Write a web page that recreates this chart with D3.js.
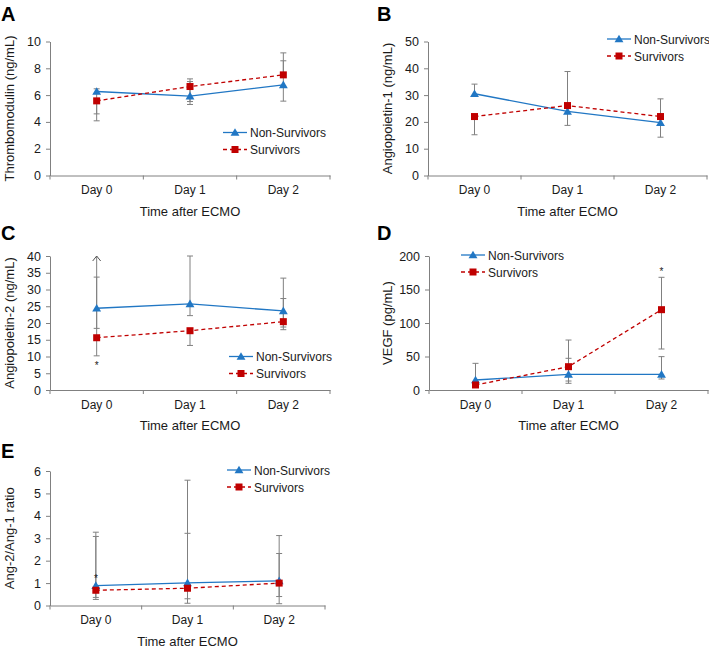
<!DOCTYPE html>
<html>
<head>
<meta charset="utf-8">
<script src="https://cdn.jsdelivr.net/npm/d3@7"></script>
<style>
  body { margin: 0; background: #fff; }
  svg { display: block; font-family: "Liberation Sans", Arial, sans-serif; }
</style>
</head>
<body>
<svg id="chart" width="709" height="647"></svg>
<script>
const days = ['Day 0', 'Day 1', 'Day 2'];
const seriesNames = ['Non-Survivors', 'Survivors'];

// A: thrombomodulin (ng/mL)
const tmNon = [6.27, 5.92, 6.77];
const tmNonLow = [4.6, 5.52, 5.55];
const tmNonHigh = [6.47, 7.01, 8.56];
const tmSur = [5.57, 6.64, 7.51];
const tmSurLow = [4.08, 5.3, null];
const tmSurHigh = [null, 7.21, 9.15];
const tmTicks = [0, 2, 4, 6, 8, 10];

// B: angiopoietin-1 (ng/mL)
const ang1Non = [30.5, 23.9, 19.7];
const ang1NonLow = [null, 18.7, 14.3];
const ang1NonHigh = [34.1, null, null];
const ang1Sur = [22.0, 26.1, 22.0];
const ang1SurLow = [15.2, null, null];
const ang1SurHigh = [null, 38.8, 28.6];
const ang1Ticks = [0, 10, 20, 30, 40, 50];

// C: angiopoietin-2 (ng/mL), Day 0 upper bar runs off the axis
const ang2Non = [24.4, 25.7, 23.6];
const ang2NonLow = [18.4, 22.2, 18.0];
const ang2NonHigh = [40, 40, 33.4];
const ang2NonOffScale = [true, false, false];
const ang2Sur = [15.6, 17.7, 20.4];
const ang2SurLow = [10.2, 13.3, 18.8];
const ang2SurHigh = [33.7, null, 27.3];
const ang2Ticks = [0, 5, 10, 15, 20, 25, 30, 35, 40];

// D: VEGF (pg/mL)
const vegfNon = [14.9, 23.4, 23.4];
const vegfNonLow = [null, 13.4, 16.4];
const vegfNonHigh = [39.8, 47.3, 49.8];
const vegfSur = [7.5, 34.8, 119.9];
const vegfSurLow = [null, 10, 61.2];
const vegfSurHigh = [null, 74.6, 168.2];
const vegfTicks = [0, 50, 100, 150, 200];

// E: Ang-2/Ang-1 ratio
const ratioNon = [0.89, 1.01, 1.10];
const ratioNonLow = [0.36, 0.3, 0.4];
const ratioNonHigh = [3.27, 5.59, 3.12];
const ratioSur = [0.68, 0.77, 1.0];
const ratioSurLow = [0.27, 0.1, 0.08];
const ratioSurHigh = [3.08, 3.22, 2.32];
const ratioTicks = [0, 1, 2, 3, 4, 5, 6];

// significance marks: [day, y value]
const ang2Star = ['Day 0', 7.6];
const vegfStar = ['Day 2', 177];
const ratioStar = ['Day 0', 1.22];

const blue = '#2177c4';
const red = '#c00000';
const grey = '#808080';
const textCol = '#1a1a1a';

const svg = d3.select('#chart');

const panels = [
  { letter: 'A', lx: 1, ly: 21, x0: 50, x1: 330, yTop: 41.5, yBot: 175.5,
    ticks: tmTicks, title: 'Thrombomodulin (ng/mL)', titleX: 10,
    non: tmNon, nonLow: tmNonLow, nonHigh: tmNonHigh,
    sur: tmSur, surLow: tmSurLow, surHigh: tmSurHigh,
    legX: 223, legY: 132.5 },
  { letter: 'B', lx: 377, ly: 21, x0: 428, x1: 707, yTop: 41.5, yBot: 175.5,
    ticks: ang1Ticks, title: 'Angiopoietin-1 (ng/mL)', titleX: 388,
    non: ang1Non, nonLow: ang1NonLow, nonHigh: ang1NonHigh,
    sur: ang1Sur, surLow: ang1SurLow, surHigh: ang1SurHigh,
    legX: 607, legY: 39 },
  { letter: 'C', lx: 1, ly: 240, x0: 50, x1: 330, yTop: 256, yBot: 390,
    ticks: ang2Ticks, title: 'Angiopoietin-2 (ng/mL)', titleX: 10,
    non: ang2Non, nonLow: ang2NonLow, nonHigh: ang2NonHigh, offScale: ang2NonOffScale,
    sur: ang2Sur, surLow: ang2SurLow, surHigh: ang2SurHigh,
    legX: 229, legY: 356.5, star: ang2Star },
  { letter: 'D', lx: 377, ly: 240, x0: 429, x1: 708, yTop: 256, yBot: 390,
    ticks: vegfTicks, title: 'VEGF (pg/mL)', titleX: 388,
    non: vegfNon, nonLow: vegfNonLow, nonHigh: vegfNonHigh,
    sur: vegfSur, surLow: vegfSurLow, surHigh: vegfSurHigh,
    legX: 461, legY: 255, star: vegfStar },
  { letter: 'E', lx: 1, ly: 458, x0: 50, x1: 325, yTop: 471, yBot: 605.5,
    ticks: ratioTicks, title: 'Ang-2/Ang-1 ratio', titleX: 10,
    non: ratioNon, nonLow: ratioNonLow, nonHigh: ratioNonHigh,
    sur: ratioSur, surLow: ratioSurLow, surHigh: ratioSurHigh,
    legX: 227, legY: 470, star: ratioStar }
];

const triangle = d3.symbol().type(d3.symbolTriangle).size(34);

function drawMarker(g, kind, x, y) {
  if (kind === 0) {
    g.append('path').attr('d', triangle())
      .attr('transform', `translate(${x},${y + 0.8})`)
      .attr('fill', blue);
  } else {
    g.append('rect').attr('x', x - 3.5).attr('y', y - 3.5)
      .attr('width', 7).attr('height', 7).attr('fill', red);
  }
}

panels.forEach(p => {
  const g = svg.append('g');

  const x = d3.scaleBand().domain(days).range([p.x0, p.x1]);
  const y = d3.scaleLinear()
    .domain([0, d3.max(p.ticks)])
    .range([p.yBot, p.yTop]);
  const cx = d => x(d) + x.bandwidth() / 2;

  // panel letter
  g.append('text')
    .attr('x', p.lx).attr('y', p.ly)
    .attr('font-size', 20).attr('font-weight', 'bold')
    .attr('fill', '#000')
    .text(p.letter);

  // y axis
  const yAxis = d3.axisLeft(y).tickValues(p.ticks).tickFormat(d3.format('d'))
    .tickSize(4).tickSizeOuter(0).tickPadding(5);
  const ya = g.append('g').attr('transform', `translate(${p.x0},0)`).call(yAxis);
  ya.select('.domain').attr('stroke', grey);
  ya.selectAll('.tick line').attr('stroke', grey);
  ya.selectAll('.tick text').attr('font-size', 12.5).attr('fill', textCol)
    .attr('font-family', '"Liberation Sans", Arial, sans-serif');

  // x axis: labels centred, tick marks on the band edges
  const xAxis = d3.axisBottom(x).tickSize(0).tickSizeOuter(0).tickPadding(10);
  const xa = g.append('g').attr('transform', `translate(0,${p.yBot})`).call(xAxis);
  xa.select('.domain').attr('stroke', grey);
  xa.selectAll('.tick text').attr('font-size', 12).attr('fill', textCol)
    .attr('font-family', '"Liberation Sans", Arial, sans-serif');
  const edges = days.map(d => x(d)).concat([p.x1]);
  g.selectAll(null).data(edges).enter().append('line')
    .attr('x1', d => d).attr('x2', d => d)
    .attr('y1', p.yBot).attr('y2', p.yBot + 4)
    .attr('stroke', grey);

  // axis titles
  g.append('text')
    .attr('x', (p.x0 + p.x1) / 2).attr('y', p.yBot + 40)
    .attr('text-anchor', 'middle').attr('font-size', 13).attr('fill', textCol)
    .text('Time after ECMO');
  g.append('text')
    .attr('transform', `translate(${p.titleX + 4},${(p.yTop + p.yBot) / 2}) rotate(-90)`)
    .attr('text-anchor', 'middle').attr('font-size', 13).attr('fill', textCol)
    .text(p.title);

  const series = [
    { vals: p.non, low: p.nonLow, high: p.nonHigh, kind: 0 },
    { vals: p.sur, low: p.surLow, high: p.surHigh, kind: 1 }
  ];

  // error bars
  series.forEach(s => {
    days.forEach((d, i) => {
      const xc = cx(d);
      [s.low[i], s.high[i]].forEach((end, j) => {
        if (end == null) return;
        g.append('line')
          .attr('x1', xc).attr('x2', xc)
          .attr('y1', y(s.vals[i])).attr('y2', y(end))
          .attr('stroke', grey).attr('stroke-width', 1);
        const off = j === 1 && s.kind === 0 && p.offScale && p.offScale[i];
        if (off) {
          g.append('path')
            .attr('d', `M${xc - 4},${y(end) + 5}L${xc},${y(end)}L${xc + 4},${y(end) + 5}`)
            .attr('fill', 'none').attr('stroke', '#555').attr('stroke-width', 1);
        } else {
          g.append('line')
            .attr('x1', xc - 3).attr('x2', xc + 3)
            .attr('y1', y(end)).attr('y2', y(end))
            .attr('stroke', grey).attr('stroke-width', 1);
        }
      });
    });
  });

  // lines
  const line = d3.line().x((v, i) => cx(days[i])).y(v => y(v));
  g.append('path').datum(p.non).attr('d', line)
    .attr('fill', 'none').attr('stroke', blue).attr('stroke-width', 1.3);
  g.append('path').datum(p.sur).attr('d', line)
    .attr('fill', 'none').attr('stroke', red).attr('stroke-width', 1.3)
    .attr('stroke-dasharray', '4,3');

  // markers
  series.forEach(s => {
    s.vals.forEach((v, i) => drawMarker(g, s.kind, cx(days[i]), y(v)));
  });

  // significance mark
  if (p.star) {
    g.append('text')
      .attr('x', cx(p.star[0])).attr('y', y(p.star[1]) + 4)
      .attr('text-anchor', 'middle').attr('font-size', 10).attr('fill', textCol)
      .text('*');
  }

  // legend
  seriesNames.forEach((name, i) => {
    const ly = p.legY + i * 17;
    g.append('line')
      .attr('x1', p.legX).attr('x2', p.legX + 24)
      .attr('y1', ly).attr('y2', ly)
      .attr('stroke', i === 0 ? blue : red).attr('stroke-width', 1.3)
      .attr('stroke-dasharray', i === 0 ? null : '4,3');
    drawMarker(g, i, p.legX + 12, ly);
    g.append('text')
      .attr('x', p.legX + 27).attr('y', ly + 4.5)
      .attr('font-size', 12).attr('fill', textCol)
      .text(name);
  });
});
</script>
</body>
</html>
